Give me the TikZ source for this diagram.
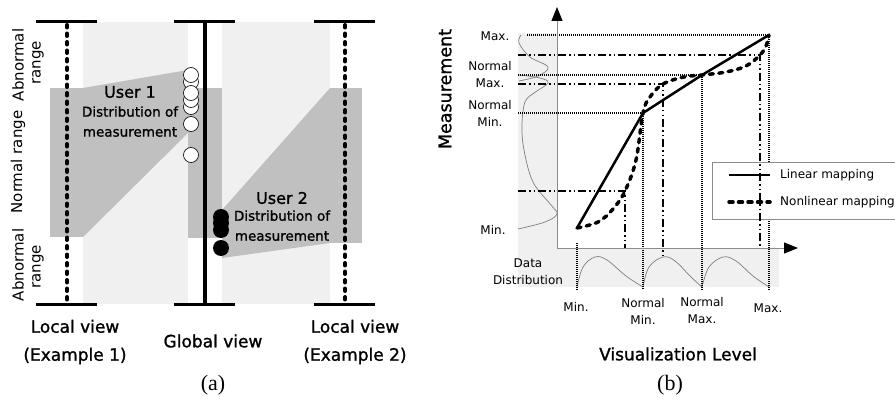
\documentclass[tikz,border=0pt]{standalone}
\usepackage{fontspec}
\setmainfont{DejaVu Sans}
\newfontfamily\heavyfont[FakeBold=1.2]{DejaVu Sans}
\newfontfamily\capfont{Liberation Serif}
\usepackage{tikz}
\usepackage{xcolor}
\usetikzlibrary{arrows.meta, calc, positioning}
\definecolor{cLight}{RGB}{240,240,240}
\definecolor{cDark}{RGB}{192,192,192}
\definecolor{cAxis}{RGB}{140,140,140}
\tikzset{
	viewbar/.style   ={line width=3pt},
	localaxis/.style ={line width=4pt, line cap=round, dash pattern=on 2.5pt off 6pt},
	globalaxis/.style={line width=3.5pt},
	whitedot/.style  ={draw=black, fill=white, line width=0.6pt},
	blackdot/.style  ={fill=black},
	rangelbl/.style  ={rotate=90, inner sep=0pt, font=\fontsize{15}{18}\selectfont},
	userlbl/.style   ={inner sep=0pt, font=\heavyfont\fontsize{16}{19}\selectfont},
	distlbl/.style   ={inner sep=0pt, align=center, font=\heavyfont\fontsize{13.5}{20}\selectfont},
	viewlbl/.style   ={inner sep=0pt, align=center, font=\heavyfont\fontsize{17}{28}\selectfont},
	caplbl/.style    ={inner sep=0pt, font=\capfont\fontsize{22}{26}\selectfont},
	% mapping chart styles
	chartaxis/.style ={draw=cAxis, line width=1pt, -{Triangle[length=14pt, width=11pt, color=black]}},
	guidedot/.style  ={line width=1.5pt, dash pattern=on 1pt off 1pt},
	guidedash/.style ={line width=1.5pt, dash pattern=on 8pt off 3pt on 1.5pt off 3pt on 1.5pt off 3pt},
	linmap/.style    ={line width=2.5pt, line cap=round, line join=round},
	nonmap/.style    ={line width=3.5pt, line cap=round, dash pattern=on 4pt off 5.5pt},
	distcurve/.style ={draw=gray, line width=0.7pt},
	ticklbl/.style   ={inner sep=0pt, align=center, font=\fontsize{12}{17}\selectfont},
}

\begin{document}
\begin{tikzpicture}[x=1pt, y=-1pt]
	\useasboundingbox (0,0) rectangle (895,404);
	% (a) bands of the three views
	\fill[cLight] (83,22) rectangle (188,304);
	\fill[cLight] (222,22) rectangle (330,304);
	\fill[cDark] (50,88) rectangle (83,237);
	\fill[cDark] (188,88) rectangle (222,238);
	\fill[cDark] (330,88) rectangle (362,243);
	\fill[cDark] (83,88) -- (188,70) -- (188,133) -- (83,237) -- cycle;
	\fill[cDark] (222,210) -- (330,88) -- (330,243) -- (222,258) -- cycle;
	\foreach \x in {67,205,345}{
		\draw[viewbar] (\x-31,22) -- (\x+30,22);
		\draw[viewbar] (\x-31,304) -- (\x+30,304);
	}
	\draw[localaxis] (67,25) -- (67,301);
	\draw[globalaxis] (205,22) -- (205,304);
	\draw[localaxis] (345,25) -- (345,301);
	\foreach \y in {107,100,82,75,93,124,155}
		\draw[whitedot] (191,\y) circle[radius=7.5pt];
	\foreach \y in {217,223,230,248}
		\fill[blackdot] (221,\y) circle[radius=8pt];
	\node[rangelbl] (abnTop) at (18,65) {Abnormal};
	\node[rangelbl] (rngTop) at (38,63) {range};
	\node[rangelbl] (nrmRange) at (18,162) {Normal range};
	\node[rangelbl] (abnBot) at (18,265) {Abnormal};
	\node[rangelbl] (rngBot) at (38,267) {range};
	\node[userlbl] (user1) at (130,92) {User 1};
	\node[distlbl, below=8pt of user1] (dist1) {Distribution of\\measurement};
	\node[userlbl] (user2) at (282,198) {User 2};
	\node[distlbl, below=6pt of user2] (dist2) {Distribution of\\measurement};
	\node[viewlbl] (local1) at (75,342) {Local view\\(Example 1)};
	\node[viewlbl] (global) at (213,341) {Global view};
	\node[viewlbl] (local2) at (355,342) {Local view\\(Example 2)};
	\node[caplbl] (capA) at (213,385) {(a)};

	% (b) mapping chart
	\fill[cLight] (518,33) rectangle (557,287);
	\fill[cLight] (557,248) rectangle (779,287);
	\coordinate (orig) at (557,248);
	\coordinate (pMin) at (577,228);
	\coordinate (pNMin) at (643,113);
	\coordinate (pNMax) at (702,75);
	\coordinate (pMax) at (769,35);
	\coordinate (q1) at (625,191);
	\coordinate (q2) at (663,84);
	\coordinate (q3) at (760,55);
	\draw[distcurve] plot[smooth, tension=0.6] coordinates {(521,35) (519,43) (530,57) (548,67) (538,76) (519,81)};
	\draw[distcurve] plot[smooth, tension=0.6] coordinates {(519,75) (540,78) (548,83) (534,93) (525,102) (522,125) (524,150) (533,182) (551,205) (557,214) (545,222) (518,229)};
	\draw[distcurve] plot[smooth, tension=0.6] coordinates {(577,287) (583,267) (595,257) (607,260) (626,276) (643,287)};
	\draw[distcurve] plot[smooth, tension=0.6] coordinates {(643,287) (649,267) (663,257) (675,261) (691,277) (702,287)};
	\draw[distcurve] plot[smooth, tension=0.6] coordinates {(702,287) (709,267) (723,257) (736,261) (753,276) (769,287)};
	\draw[guidedot] (527,35) -- (pMax) -- (769,290);
	\draw[guidedot] (518,75) -- (pNMax) -- (702,290);
	\draw[guidedot] (518,113) -- (pNMin) -- (643,290);
	\draw[guidedot] (577,243) -- (577,290);
	\fill[white] (712,162) rectangle (895,219);
	\draw[cAxis, line width=0.8pt] (896,162) -- (712,162) -- (712,219) -- (896,219);
	\draw[guidedash] (518,55) -- (q3) -- (760,248);
	\draw[guidedash] (518,84) -- (q2) -- (663,258);
	\draw[guidedash] (518,191) -- (q1) -- (625,248);
	\draw[chartaxis] (orig) -- (557,7);
	\draw[chartaxis] (orig) -- (798,248);
	\draw[linmap] (pMin) -- (pNMin) -- (pNMax) -- (pMax);
	\draw[nonmap] plot[smooth, tension=0.6] coordinates {(577,228) (598,222) (613,209) (625,191) (636,160) (643,113) (650,97) (663,84) (684,77) (702,75) (726,72) (746,66) (760,55) (766,46) (769,35)};
	\coordinate (lgA) at (729,175);
	\coordinate (lgB) at (729,202);
	\draw[linmap, line cap=butt] (lgA) -- ++(41,0);
	\draw[nonmap] (lgB) -- ++(41,0);
	\node[ticklbl, anchor=west] (lgLin) at (780,175) {Linear mapping};
	\node[ticklbl, anchor=west] (lgNon) at (780,202) {Nonlinear mapping};
	\node[rangelbl, font=\heavyfont\fontsize{17.5}{20}\selectfont] (meas) at (445,89) {Measurement};
	\node[ticklbl] (yMax) at (495,36) {Max.};
	\node[ticklbl] (yNMax) at (490,75) {Normal\\Max.};
	\node[ticklbl] (yNMin) at (490,113) {Normal\\Min.};
	\node[ticklbl] (yMin) at (493,230) {Min.};
	\node[ticklbl] (dataDist) at (528,272) {Data\\Distribution};
	\node[ticklbl] (xMin) at (576,307) {Min.};
	\node[ticklbl] (xNMin) at (643,311) {Normal\\Min.};
	\node[ticklbl] (xNMax) at (702,311) {Normal\\Max.};
	\node[ticklbl] (xMax) at (768,308) {Max.};
	\node[viewlbl] (visLevel) at (678,354) {Visualization Level};
	\node[caplbl] (capB) at (670,385) {(b)};
\end{tikzpicture}
\end{document}
